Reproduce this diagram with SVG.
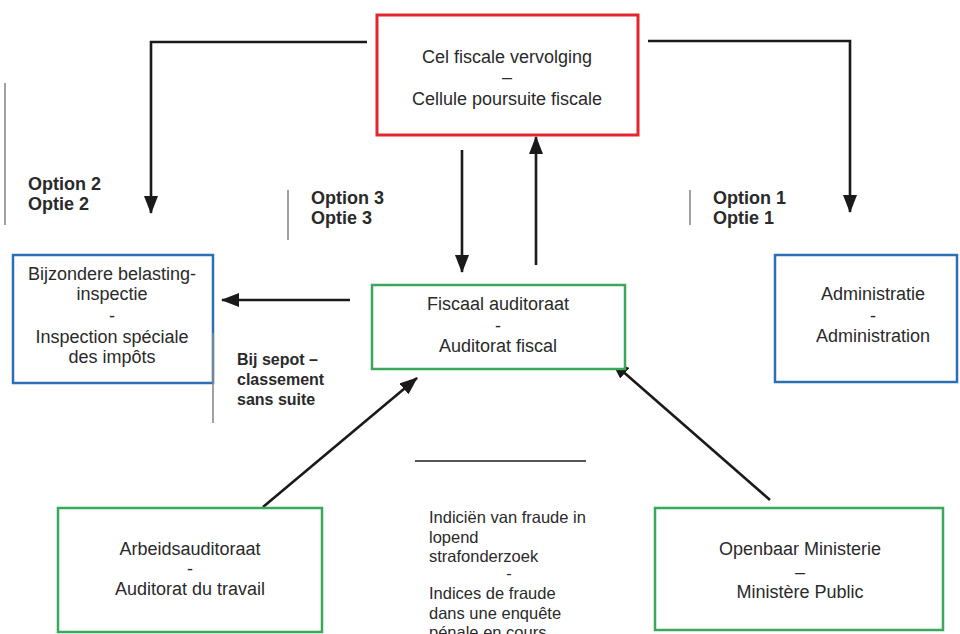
<svg xmlns="http://www.w3.org/2000/svg" width="960" height="634" viewBox="0 0 960 634">
<style>
.bg{fill:#fff}
.box{fill:#fff;stroke-width:2.5}
.red{stroke:#e3262e;stroke-width:3}
.green{stroke:#3aa85a}
.blue{stroke:#2b6fb6}
.t{font-family:"Liberation Sans",Arial,sans-serif;font-size:18px;fill:#2a2a2a;text-anchor:middle}
.b{font-family:"Liberation Sans",Arial,sans-serif;font-weight:bold;fill:#2a2a2a}
.m{font-family:"Liberation Sans",Arial,sans-serif;font-size:16.5px;fill:#2a2a2a}
.con{fill:none;stroke:#1a1a1a;stroke-width:2.6;marker-end:url(#ah)}
.sep{stroke:#8a8a8a;stroke-width:1.6}
</style>
<defs>
<marker id="ah" markerUnits="userSpaceOnUse" markerWidth="18" markerHeight="14" refX="17" refY="7" orient="auto">
<path d="M0,0 L18,7 L0,14 z" fill="#1a1a1a"/>
</marker>
</defs>
<rect class="bg" x="0" y="0" width="960" height="634"/>

<g id="connectors">
<path class="con" d="M367,42 H151 V213"/>
<path class="con" d="M648,41 H850 V212"/>
<path class="con" d="M462,150 V272"/>
<path class="con" d="M536,265 V137"/>
<path class="con" d="M350,300 H222"/>
<path class="con" d="M263,507 L417,378"/>
<path class="con" d="M770,500 L612,362"/>
</g>

<g id="cel-fiscale">
<rect class="box red" x="377" y="15" width="261" height="120"/>
<text class="t" x="507" y="63">Cel fiscale vervolging</text>
<text class="t" x="507" y="83">–</text>
<text class="t" x="507" y="105">Cellule poursuite fiscale</text>
</g>

<g id="bijzondere">
<rect class="box blue" x="13" y="255" width="200" height="128"/>
<text class="t" x="112" y="280">Bijzondere belasting-</text>
<text class="t" x="112" y="300">inspectie</text>
<text class="t" x="112" y="322">-</text>
<text class="t" x="112" y="343">Inspection spéciale</text>
<text class="t" x="112" y="363">des impôts</text>
</g>

<g id="fiscaal">
<rect class="box green" x="372" y="285" width="253" height="84"/>
<text class="t" x="498" y="310">Fiscaal auditoraat</text>
<text class="t" x="498" y="332">-</text>
<text class="t" x="498" y="352">Auditorat fiscal</text>
</g>

<g id="administratie">
<rect class="box blue" x="775" y="255" width="182" height="127"/>
<text class="t" x="873" y="300">Administratie</text>
<text class="t" x="873" y="322">-</text>
<text class="t" x="873" y="342">Administration</text>
</g>

<g id="arbeids">
<rect class="box green" x="58" y="508" width="264" height="124"/>
<text class="t" x="190" y="555">Arbeidsauditoraat</text>
<text class="t" x="190" y="575">-</text>
<text class="t" x="190" y="595">Auditorat du travail</text>
</g>

<g id="openbaar">
<rect class="box green" x="655" y="508" width="288" height="122"/>
<text class="t" x="800" y="555">Openbaar Ministerie</text>
<text class="t" x="800" y="578" font-size="14">–</text>
<text class="t" x="800" y="598">Ministère Public</text>
</g>

<g id="labels">
<line class="sep" x1="5" y1="83" x2="5" y2="225"/>
<text class="b" font-size="18" x="28" y="190">Option 2</text>
<text class="b" font-size="18" x="28" y="210">Optie 2</text>
<line class="sep" x1="288" y1="190" x2="288" y2="240"/>
<text class="b" font-size="18" x="311" y="204">Option 3</text>
<text class="b" font-size="18" x="311" y="224">Optie 3</text>
<line class="sep" x1="690" y1="190" x2="690" y2="225"/>
<text class="b" font-size="18" x="713" y="204">Option 1</text>
<text class="b" font-size="18" x="713" y="224">Optie 1</text>
<line class="sep" x1="213" y1="333" x2="213" y2="423"/>
<text class="b" font-size="16" x="237" y="365">Bij sepot –</text>
<text class="b" font-size="16" x="237" y="385">classement</text>
<text class="b" font-size="16" x="237" y="405">sans suite</text>
</g>

<g id="indicien">
<line x1="415" y1="461" x2="586" y2="461" stroke="#555" stroke-width="1.8"/>
<text class="m" x="429" y="523">Indiciën van fraude in</text>
<text class="m" x="429" y="543">lopend</text>
<text class="m" x="429" y="562">strafonderzoek</text>
<text class="m" x="509" y="579" text-anchor="middle">-</text>
<text class="m" x="429" y="599">Indices de fraude</text>
<text class="m" x="429" y="619">dans une enquête</text>
<text class="m" x="429" y="638">pénale en cours</text>
</g>
</svg>
